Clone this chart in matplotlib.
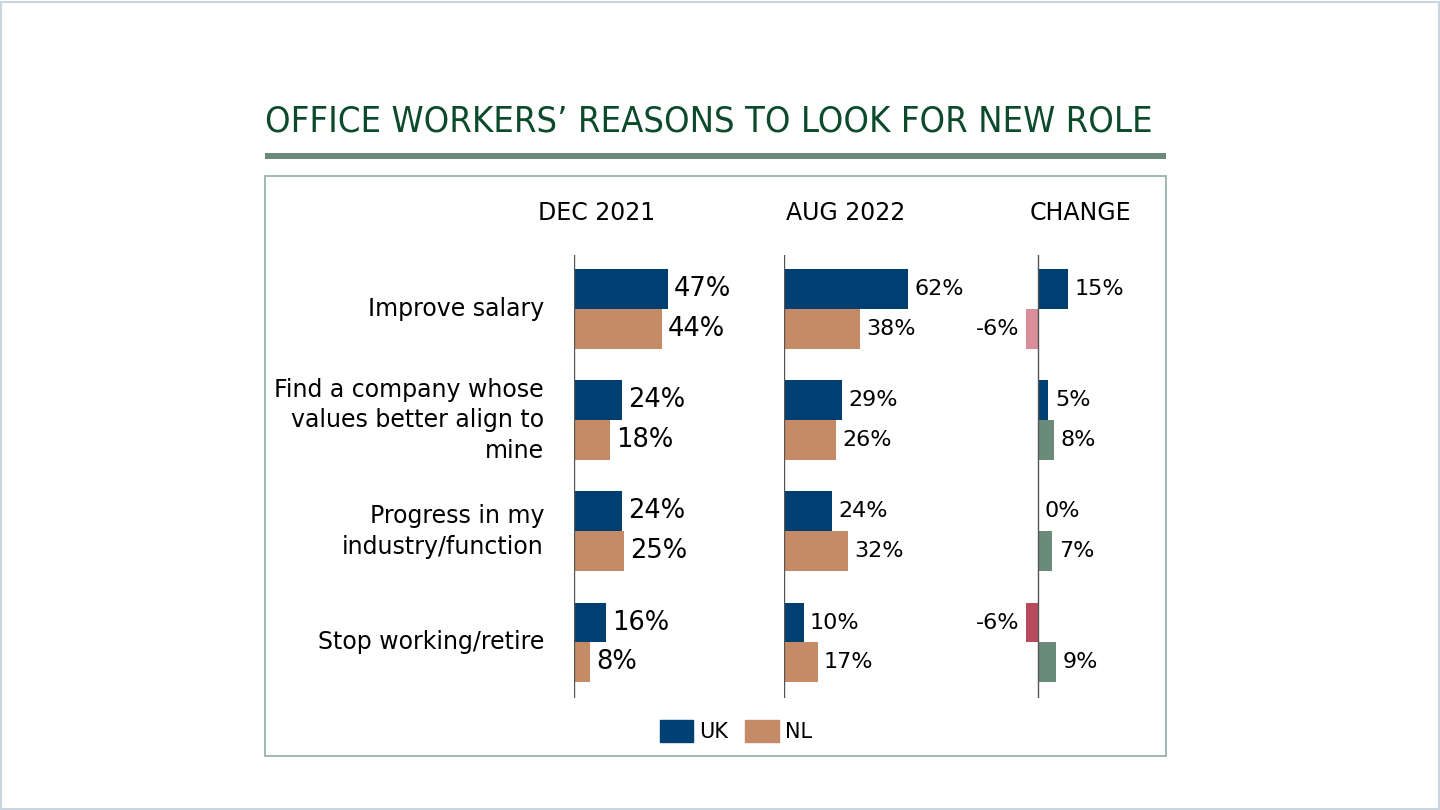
import matplotlib.pyplot as plt
from matplotlib.patches import Rectangle, Patch

categories = ['Improve salary',
              'Find a company whose\nvalues better align to\nmine',
              'Progress in my\nindustry/function',
              'Stop working/retire']
uk_dec = [47, 24, 24, 16]
nl_dec = [44, 18, 25, 8]
uk_aug = [62, 29, 24, 10]
nl_aug = [38, 26, 32, 17]
uk_chg = [15, 5, 0, -6]
nl_chg = [-6, 8, 7, 9]

NAVY = '#003f72'
TAN = '#c58b66'
GREEN = '#6b8b7a'
PINK = '#d98e99'
RED = '#b94a5c'
TITLE = '#0b4a2a'

W, H = 1440, 810
fig = plt.figure(figsize=(14.4, 8.1), dpi=100)
plt.rcParams['font.family'] = ['DejaVu Sans']

# outer frame and panel box
fig.patches.append(Rectangle((0.001, 0.001), 0.998, 0.997, transform=fig.transFigure,
                             fill=False, ec='#c9d5df', lw=1.5))
fig.patches.append(Rectangle((265 / W, 1 - 756 / H), 901 / W, 580 / H, transform=fig.transFigure,
                             fill=False, ec='#8fae9e', lw=1.2))
fig.patches.append(Rectangle((265 / W, 1 - 159 / H), 901 / W, 6 / H, transform=fig.transFigure,
                             fc=GREEN, ec='none'))
fig.text(265 / W, 1 - 121 / H, 'OFFICE WORKERS\u2019 REASONS TO LOOK FOR NEW ROLE',
         family='DejaVu Sans', stretch='condensed', fontsize=26, color=TITLE,
         va='center', ha='left')

y_uk = [i - 0.18 for i in range(len(categories))]
y_nl = [i + 0.18 for i in range(len(categories))]
bh = 0.36


def make_ax(left_px, width_px, xlim):
    ax = fig.add_axes([left_px / W, 1 - 698 / H, width_px / W, 443 / H])
    ax.set_xlim(*xlim)
    ax.set_ylim(3.5, -0.49)
    for s in ['top', 'right', 'bottom', 'left']:
        ax.spines[s].set_visible(False)
    ax.axvline(0, color='#555555', lw=1)
    ax.set_xticks([])
    ax.set_yticks([])
    ax.patch.set_visible(False)
    return ax


ax1 = make_ax(574, 200, (0, 100))
ax2 = make_ax(784, 200, (0, 100))
ax3 = make_ax(1018, 120, (-10, 50))

for ax, uk, nl, fs in [(ax1, uk_dec, nl_dec, 18.5), (ax2, uk_aug, nl_aug, 16)]:
    ax.barh(y_uk, uk, height=bh, color=NAVY)
    ax.barh(y_nl, nl, height=bh, color=TAN)
    for y, v in zip(y_uk + y_nl, uk + nl):
        ax.text(v + 3, y, f'{v}%', va='center', ha='left', fontsize=fs)

uk_cols = [NAVY if v >= 0 else RED for v in uk_chg]
nl_cols = [GREEN if v >= 0 else PINK for v in nl_chg]
ax3.barh(y_uk, uk_chg, height=bh, color=uk_cols)
ax3.barh(y_nl, nl_chg, height=bh, color=nl_cols)
for y, v in zip(y_uk + y_nl, uk_chg + nl_chg):
    if v < 0:
        ax3.text(v - 3.5, y, f'{v}%', va='center', ha='right', fontsize=16)
    else:
        ax3.text(v + 3.5, y, f'{v}%', va='center', ha='left', fontsize=16)

# panel headers
fig.text(597 / W, 1 - 213 / H, 'DEC 2021', ha='center', va='center', fontsize=17)
fig.text(846 / W, 1 - 213 / H, 'AUG 2022', ha='center', va='center', fontsize=17)
fig.text(1080 / W, 1 - 213 / H, 'CHANGE', ha='center', va='center', fontsize=17)

for i, c in enumerate(categories):
    ax1.text(-15, i, c, ha='right', va='center', fontsize=17, linespacing=1.35)

handles = [Patch(color=NAVY, label='UK'), Patch(color=TAN, label='NL')]
fig.legend(handles=handles, loc='center', bbox_to_anchor=(736 / W, 1 - 731 / H), ncol=2,
           frameon=False, fontsize=15, handlelength=1.6, handleheight=1.3, columnspacing=0.8,
           handletextpad=0.3)

fig.savefig('out.png', dpi=100)
